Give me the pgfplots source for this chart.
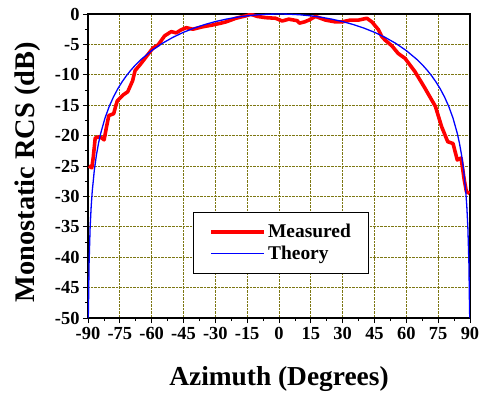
\documentclass[border=0pt]{standalone}
\usepackage{fontspec}
\setmainfont{Liberation Serif}
\usepackage{pgfplots}
\pgfplotsset{compat=1.18}
\begin{document}
\begin{tikzpicture}
\begin{axis}[
  scale only axis, width=382bp, height=304bp,
  at={(0,0)}, anchor=south west,
  xmin=-90, xmax=90, ymin=-50, ymax=0,
  xtick={-90,-75,...,90}, ytick={-50,-45,...,0},
  minor x tick num=1, minor y tick num=1,
  xtick pos=bottom, ytick pos=left,
  tick align=outside,
  major tick length=5bp, minor tick length=3bp,
  tick style={black, line width=0.8pt},
  axis line style={line width=1.2pt},
  grid=major,
  major grid style={densely dotted, color=olive!85!black, line width=0.7pt},
  /pgf/number format/assume math mode=true,
  ticklabel style={font=\fontsize{18.5}{20}\selectfont\bfseries},
  xticklabel style={yshift=-1bp},
  xlabel={Azimuth (Degrees)},
  ylabel={Monostatic RCS (dB)},
  xlabel style={font=\fontsize{27.5}{30}\selectfont\bfseries, at={(axis description cs:0.5,-0.2)}, anchor=center},
  ylabel style={font=\fontsize{28.5}{30}\selectfont\bfseries, at={(axis description cs:-0.157,0.48)}, anchor=center},
  legend style={at={(axis description cs:0.275,0.349)}, anchor=north west,
    draw=black, line width=1pt, fill=white,
    font=\fontsize{19.5}{22}\selectfont\bfseries,
    inner xsep=16bp, inner ysep=10bp, row sep=3bp},
  legend cell align=left,
  legend image code/.code={\draw[#1] (0bp,0bp) -- (53bp,0bp);},
]
\addplot[red, line width=3.6pt, line join=round] coordinates {
(-89.6,-25.0) (-88.2,-25.3) (-87.5,-23.5) (-86.6,-20.4) (-85,-20.2) (-83.5,-20.4)
(-82.4,-20.7) (-81.3,-18.6) (-80.2,-16.7) (-77.9,-16.4) (-77.0,-15.2) (-76.2,-14.3)
(-73.4,-13.3) (-71.3,-12.8) (-69.0,-11.0) (-67.8,-9.3) (-65.6,-8.4) (-62.5,-7.0)
(-59.4,-5.6) (-57.0,-5.1) (-53.9,-3.6) (-50.8,-2.9) (-48.4,-3.1) (-46.1,-2.6)
(-43.7,-2.25) (-40.6,-2.5) (-35.9,-2.1) (-31.2,-1.8) (-27.3,-1.5) (-25,-1.3)
(-20.3,-0.7) (-15.6,-0.3) (-13.3,-0.05) (-10.2,-0.4) (-6.3,-0.6) (-1.6,-0.7)
(1.5,-1.15) (4.6,-0.85) (8.6,-1.1) (9.6,-1.5) (12,-1.3) (14.1,-1.0) (17.2,-0.4)
(21.9,-1.0) (26.6,-1.3) (29.7,-1.3) (33.6,-1.0) (37.5,-1.0) (41.4,-0.7)
(43.8,-1.3) (46.9,-2.6) (48.4,-3.7) (50.0,-4.3) (53.1,-5.2) (56.2,-6.5)
(59.4,-7.3) (64.1,-9.5) (68.6,-12.1) (73.7,-15.2) (76.6,-18.5) (79.5,-21.0)
(82.0,-21.3) (84.0,-24.0) (85.8,-23.7) (87.3,-27.3) (88.3,-29.2) (89.8,-29.5)
};
\addlegendentry{Measured}
\addplot[blue, line width=1.3pt] coordinates {
(-90,-50) (-89.8,-49.14) (-89.5,-41.18) (-89,-35.163) (-88.5,-31.642) (-88,-29.144)
(-87,-25.624) (-86,-23.128) (-85,-21.194) (-84,-19.615) (-82,-17.129) (-80,-15.206)
(-78,-13.643) (-76,-12.326) (-74,-11.193) (-72,-10.200) (-70,-9.319) (-68,-8.527)
(-65,-7.481) (-60,-6.021) (-55,-4.828) (-50,-3.839) (-45,-3.010) (-40,-2.315)
(-35,-1.733) (-30,-1.249) (-25,-0.855) (-20,-0.540) (-15,-0.301) (-10,-0.133)
(-5,-0.033) (0,0) (5,-0.033) (10,-0.133) (15,-0.301) (20,-0.540) (25,-0.855)
(30,-1.249) (35,-1.733) (40,-2.315) (45,-3.010) (50,-3.839) (55,-4.828)
(60,-6.021) (65,-7.481) (68,-8.527) (70,-9.319) (72,-10.200) (74,-11.193)
(76,-12.326) (78,-13.643) (80,-15.206) (82,-17.129) (84,-19.615) (85,-21.194)
(86,-23.128) (87,-25.624) (88,-29.144) (88.5,-31.642) (89,-35.163) (89.5,-41.18)
(89.8,-49.14) (90,-50)
};
\addlegendentry{Theory}
\end{axis}
\pgfresetboundingbox
\path (-88bp,-76bp) rectangle (396bp,318bp);
\end{tikzpicture}
\end{document}
